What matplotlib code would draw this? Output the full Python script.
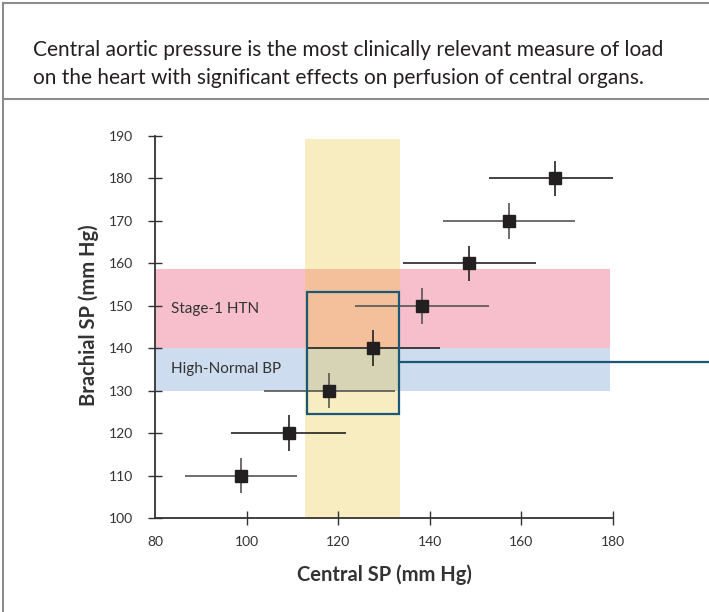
import matplotlib.pyplot as plt
from matplotlib.patches import Rectangle
from matplotlib.lines import Line2D

plt.rcParams['font.family'] = ['Lato', 'DejaVu Sans']

# data
central_sp = [98.7, 109.2, 118.0, 127.7, 138.3, 148.6, 157.3, 167.3]
brachial_sp = [110, 120, 130, 140, 150, 160, 170, 180]
central_err = [12.2, 12.5, 14.3, 14.5, 14.6, 14.5, 14.5, 14.4]
brachial_err = [4.2, 4.3, 4.2, 4.2, 4.3, 4.2, 4.3, 4.2]
bar_colors = ['#555555', '#222222', '#555555', '#222222', '#555555', '#222222', '#555555', '#222222']

x_ticks = [80, 100, 120, 140, 160, 180]
y_ticks = [100, 110, 120, 130, 140, 150, 160, 170, 180, 190]

band_names = ['Stage-1 HTN', 'High-Normal BP']
band_low = [140, 130]
band_high = [158.6, 140]
band_label_y = [149.3, 135.1]
band_x = (80, 179.3)
central_band = (112.75, 133.5)
central_band_top = 189.3
box_x = (113.1, 133.2)
box_y = (124.5, 153.3)
connector_y = 136.8

fig = plt.figure(figsize=(7.09, 6.12), dpi=100)

# header panel
border = '#8c8c8c'
fig.add_artist(Line2D([3 / 709, 3 / 709], [0, 1 - 2.5 / 612], transform=fig.transFigure, color=border, lw=1.5))
fig.add_artist(Line2D([3 / 709, 1], [1 - 2.5 / 612, 1 - 2.5 / 612], transform=fig.transFigure, color=border, lw=1.5))
fig.add_artist(Line2D([3 / 709, 1], [1 - 99 / 612, 1 - 99 / 612], transform=fig.transFigure, color=border, lw=1.5))
fig.text(33 / 709, 1 - 50 / 612, 'Central aortic pressure is the most clinically relevant measure of load',
         fontsize=15, color='#231f20', va='center')
fig.text(33 / 709, 1 - 78 / 612, 'on the heart with significant effects on perfusion of central organs.',
         fontsize=15, color='#231f20', va='center')

ax = fig.add_axes([155 / 709, 1 - 518 / 612, 458 / 709, 382 / 612])
ax.set_xlim(80, 180)
ax.set_ylim(100, 190)

pink = '#f7bfcc'
blue = '#cddcee'
yellow = '#f7edc0'
overlap = {'Stage-1 HTN': '#f4c09c', 'High-Normal BP': '#d7d4b5'}
band_colors = {'Stage-1 HTN': pink, 'High-Normal BP': blue}

ax.add_patch(Rectangle((central_band[0], 100), central_band[1] - central_band[0], central_band_top - 100,
                       facecolor=yellow, edgecolor='none', zorder=1, clip_on=False))
for name, lo, hi, ly in zip(band_names, band_low, band_high, band_label_y):
    ax.add_patch(Rectangle((band_x[0], lo), band_x[1] - band_x[0], hi - lo,
                           facecolor=band_colors[name], edgecolor='none', zorder=1))
    ax.add_patch(Rectangle((central_band[0], lo), central_band[1] - central_band[0], hi - lo,
                           facecolor=overlap[name], edgecolor='none', zorder=1.5))
    ax.text(83.5, ly, name, fontsize=11, color='#333333', va='center', zorder=3)

for x, y, xe, ye, c in zip(central_sp, brachial_sp, central_err, brachial_err, bar_colors):
    ax.errorbar(x, y, xerr=xe, yerr=ye, fmt='none', ecolor=c, elinewidth=1.2, capsize=0, zorder=3)
ax.plot(central_sp, brachial_sp, 's', color='#231f20', markersize=8.6, zorder=4)

ax.add_patch(Rectangle((box_x[0], box_y[0]), box_x[1] - box_x[0], box_y[1] - box_y[0],
                       facecolor='none', edgecolor='#1b5878', lw=1.6, zorder=5))
ax.plot([box_x[1], 205], [connector_y, connector_y], color='#1b5878', lw=1.6, zorder=5, clip_on=False)

for side in ['top', 'right']:
    ax.spines[side].set_visible(False)
for side in ['left', 'bottom']:
    ax.spines[side].set_color('#333333')
    ax.spines[side].set_linewidth(1.3)
ax.set_facecolor('none')

ax.set_xticks(x_ticks)
ax.set_yticks(y_ticks)
ax.tick_params(direction='inout', length=9.5, width=1, color='#333333', labelcolor='#333333', labelsize=10)
ax.tick_params(axis='y', pad=11)
ax.tick_params(axis='x', pad=8)
ax.xaxis.get_major_ticks()[0].tick1line.set_visible(False)

ax.set_xlabel('Central SP (mm Hg)', fontsize=14.5, fontweight='bold', color='#333333', labelpad=12)
ax.set_ylabel('Brachial SP (mm Hg)', fontsize=14.5, fontweight='bold', color='#333333')
ax.yaxis.set_label_coords(-0.123, 0.53)

fig.savefig('out.png', dpi=100)
